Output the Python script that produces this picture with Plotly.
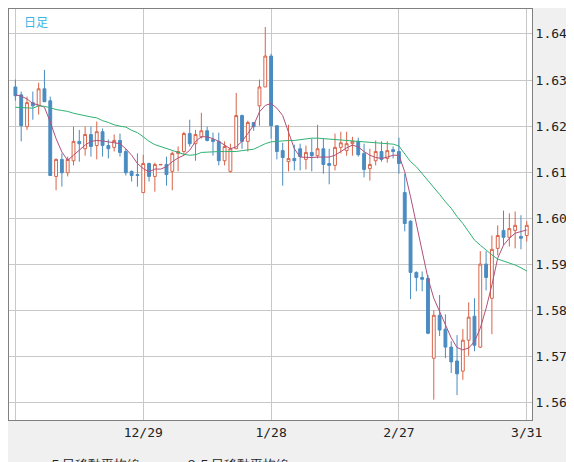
import plotly.graph_objects as go

# daily candles, oldest first
opens = [1.6285, 1.6268, 1.6199, 1.6251, 1.6244, 1.6281, 1.6255, 1.6091, 1.6128, 1.6099,
         1.6125, 1.6167, 1.6151, 1.6182, 1.6158, 1.6188, 1.6158, 1.6154, 1.6169, 1.6145,
         1.6102, 1.6095, 1.6056, 1.6119, 1.6091, 1.6116, 1.6117, 1.6102, 1.6141, 1.6145,
         1.6184, 1.6162, 1.6177, 1.6190, 1.6171, 1.6167, 1.6125, 1.6102, 1.6151, 1.6223,
         1.6167, 1.6208, 1.6244, 1.6285, 1.6352, 1.6201, 1.6147, 1.6123, 1.6130, 1.6151,
         1.6128, 1.6143, 1.6136, 1.6151, 1.6119, 1.6115, 1.6154, 1.6147, 1.6162, 1.6167,
         1.6141, 1.6108, 1.6125, 1.6145, 1.6130, 1.6149, 1.6145, 1.6056, 1.5994, 1.5883,
         1.5872, 1.5870, 1.5697, 1.5790, 1.5760, 1.5721, 1.5691, 1.5669, 1.5736, 1.5788,
         1.5721, 1.5901, 1.5827, 1.5935, 1.5974, 1.5959, 1.5974, 1.5961, 1.5963]
highs = [1.6301, 1.6275, 1.6264, 1.6275, 1.6294, 1.6322, 1.6264, 1.6130, 1.6141, 1.6134,
         1.6199, 1.6192, 1.6199, 1.6199, 1.6210, 1.6195, 1.6171, 1.6182, 1.6184, 1.6151,
         1.6104, 1.6141, 1.6138, 1.6121, 1.6121, 1.6117, 1.6134, 1.6145, 1.6156, 1.6188,
         1.6214, 1.6192, 1.6229, 1.6199, 1.6186, 1.6186, 1.6167, 1.6162, 1.6272, 1.6225,
         1.6212, 1.6208, 1.6301, 1.6415, 1.6357, 1.6201, 1.6164, 1.6203, 1.6160, 1.6162,
         1.6158, 1.6173, 1.6203, 1.6173, 1.6151, 1.6184, 1.6188, 1.6188, 1.6177, 1.6175,
         1.6162, 1.6151, 1.6169, 1.6167, 1.6167, 1.6156, 1.6175, 1.6097, 1.5996, 1.5885,
         1.5885, 1.5877, 1.5801, 1.5834, 1.5792, 1.5734, 1.5747, 1.5760, 1.5818, 1.5827,
         1.5929, 1.5929, 1.5963, 1.5985, 1.6017, 1.6011, 1.6015, 1.6007, 1.5994]
lows = [1.6255, 1.6167, 1.6192, 1.6214, 1.6225, 1.6253, 1.6093, 1.6061, 1.6069, 1.6091,
        1.6115, 1.6123, 1.6136, 1.6134, 1.6128, 1.6134, 1.6130, 1.6145, 1.6134, 1.6093,
        1.6080, 1.6069, 1.6056, 1.6080, 1.6058, 1.6116, 1.6071, 1.6061, 1.6102, 1.6136,
        1.6156, 1.6125, 1.6173, 1.6167, 1.6136, 1.6115, 1.6115, 1.6099, 1.6151, 1.6151,
        1.6145, 1.6190, 1.6201, 1.6285, 1.6173, 1.6128, 1.6071, 1.6102, 1.6104, 1.6104,
        1.6106, 1.6102, 1.6130, 1.6097, 1.6074, 1.6104, 1.6141, 1.6136, 1.6136, 1.6134,
        1.6089, 1.6082, 1.6115, 1.6123, 1.6121, 1.6130, 1.6097, 1.5972, 1.5825, 1.5842,
        1.5842, 1.5749, 1.5607, 1.5745, 1.5697, 1.5665, 1.5617, 1.5650, 1.5702, 1.5712,
        1.5719, 1.5844, 1.5749, 1.5920, 1.5942, 1.5939, 1.5935, 1.5933, 1.5950]
closes = [1.6266, 1.6201, 1.6251, 1.6244, 1.6281, 1.6253, 1.6093, 1.6128, 1.6099, 1.6128,
          1.6167, 1.6162, 1.6182, 1.6156, 1.6188, 1.6158, 1.6151, 1.6169, 1.6143, 1.6099,
          1.6093, 1.6093, 1.6119, 1.6091, 1.6117, 1.6117, 1.6095, 1.6141, 1.6145, 1.6184,
          1.6162, 1.6182, 1.6190, 1.6169, 1.6167, 1.6125, 1.6156, 1.6151, 1.6223, 1.6167,
          1.6208, 1.6199, 1.6285, 1.6352, 1.6201, 1.6145, 1.6132, 1.6130, 1.6125, 1.6134,
          1.6143, 1.6136, 1.6151, 1.6117, 1.6115, 1.6154, 1.6164, 1.6162, 1.6167, 1.6138,
          1.6106, 1.6117, 1.6145, 1.6128, 1.6147, 1.6145, 1.6119, 1.5989, 1.5883, 1.5872,
          1.5868, 1.5751, 1.5790, 1.5758, 1.5721, 1.5689, 1.5663, 1.5736, 1.5786, 1.5725,
          1.5901, 1.5872, 1.5933, 1.5963, 1.5959, 1.5978, 1.5985, 1.5957, 1.5985]

ma5 = [1.6268, 1.6265, 1.6259, 1.6249, 1.6246, 1.6241, 1.6209, 1.6173, 1.6144, 1.6126,
       1.6137, 1.6148, 1.6159, 1.6167, 1.6169, 1.6168, 1.6166, 1.6164, 1.6162, 1.6151,
       1.6137, 1.6119, 1.6108, 1.6101, 1.6107, 1.6107, 1.6112, 1.6123, 1.6131, 1.6137,
       1.6148, 1.6167, 1.6177, 1.6177, 1.6173, 1.6167, 1.6159, 1.6151, 1.6155, 1.6167,
       1.6184, 1.6202, 1.6231, 1.6245, 1.6249, 1.6239, 1.6223, 1.6187, 1.6151, 1.6133,
       1.6132, 1.6132, 1.6133, 1.6133, 1.6133, 1.6137, 1.6145, 1.6153, 1.6159, 1.6155,
       1.6145, 1.6137, 1.6132, 1.6130, 1.6133, 1.6137, 1.6137, 1.6101, 1.6047, 1.5989,
       1.5935, 1.5870, 1.5827, 1.5798, 1.5769, 1.5741, 1.5720, 1.5715, 1.5719, 1.5733,
       1.5762, 1.5805, 1.5856, 1.5914, 1.5942, 1.5957, 1.5968, 1.5971, 1.5975]
ma25 = [1.6241, 1.6240, 1.6239, 1.6239, 1.6244, 1.6243, 1.6240, 1.6236, 1.6234, 1.6232,
        1.6228, 1.6225, 1.6223, 1.6220, 1.6218, 1.6212, 1.6208, 1.6203, 1.6200, 1.6198,
        1.6191, 1.6186, 1.6177, 1.6167, 1.6160, 1.6156, 1.6151, 1.6148, 1.6144, 1.6139,
        1.6137, 1.6138, 1.6143, 1.6144, 1.6144, 1.6145, 1.6145, 1.6145, 1.6145, 1.6147,
        1.6148, 1.6150, 1.6156, 1.6162, 1.6166, 1.6167, 1.6169, 1.6169, 1.6169, 1.6171,
        1.6173, 1.6174, 1.6174, 1.6173, 1.6171, 1.6170, 1.6169, 1.6168, 1.6167, 1.6167,
        1.6166, 1.6165, 1.6164, 1.6163, 1.6162, 1.6161, 1.6157, 1.6141, 1.6123, 1.6112,
        1.6097, 1.6083, 1.6069, 1.6052, 1.6036, 1.6022, 1.6004, 1.5989, 1.5971, 1.5953,
        1.5942, 1.5931, 1.5921, 1.5912, 1.5908, 1.5903, 1.5899, 1.5893, 1.5886]

tick_pos = [0, 22, 44, 66, 88]
tick_labels = ["", "12/29", "1/28", "2/27", "3/31"]
y_ticks = [1.56, 1.57, 1.58, 1.59, 1.60, 1.61, 1.62, 1.63, 1.64]

x = list(range(len(opens)))

fig = go.Figure()
fig.add_trace(go.Candlestick(
    x=x, open=opens, high=highs, low=lows, close=closes,
    increasing=dict(line=dict(color="#d8644a", width=1), fillcolor="white"),
    decreasing=dict(line=dict(color="#4a8cc2", width=1), fillcolor="#4a8cc2"),
    whiskerwidth=0, showlegend=False, hoverinfo="skip"))
fig.add_trace(go.Scatter(x=x, y=ma5, mode="lines", name="５日移動平均線",
                         line=dict(color="#b0507a", width=1)))
fig.add_trace(go.Scatter(x=x, y=ma25, mode="lines", name="２５日移動平均線",
                         line=dict(color="#2fb274", width=1)))

fig.update_layout(
    width=574, height=462,
    margin=dict(l=1, r=50, t=1, b=50, autoexpand=False),
    paper_bgcolor="#f0f0f0", plot_bgcolor="white",
    font=dict(family="DejaVu Sans Mono", size=13, color="#222222"),
    legend=dict(orientation="h", x=0.0, y=-0.07, xanchor="left", yanchor="top",
                bgcolor="rgba(0,0,0,0)", font=dict(size=13)),
    annotations=[dict(text="日足", x=0.025, y=0.995, xref="paper", yref="paper",
                      xanchor="left", yanchor="top", showarrow=False,
                      font=dict(color="#3ab4e6", size=12, family="Noto Sans CJK JP"))],
)
fig.update_xaxes(range=[-1.1, 88.9], tickvals=tick_pos, ticktext=tick_labels,
                 showgrid=True, gridcolor="#c8c8c8", rangeslider_visible=False,
                 showline=True, linecolor="#808080", mirror=True, ticks="", zeroline=False)
fig.update_yaxes(range=[1.5563, 1.6454], side="right", tickvals=y_ticks,
                 tickformat=".2f", showgrid=True, gridcolor="#c8c8c8",
                 showline=True, linecolor="#808080", mirror=True, zeroline=False)

fig.write_html("out.html")
